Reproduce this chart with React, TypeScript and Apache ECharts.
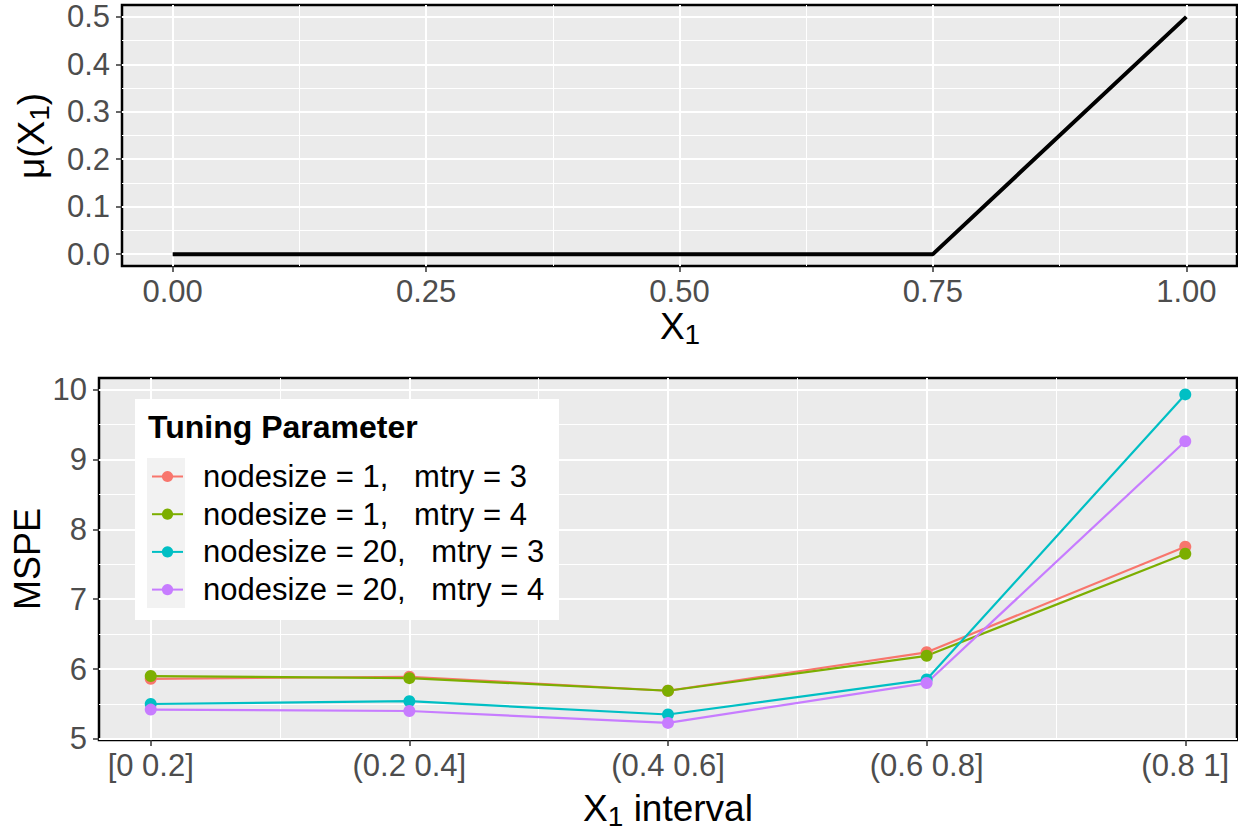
import React, { useEffect, useRef } from 'react';
import * as echarts from 'echarts';

// Upper panel: mean function mu(X1)
const muX = [0, 0.75, 1];
const muY = [0, 0, 0.5];
const muXTicks = [0, 0.25, 0.5, 0.75, 1];
const muXMinor = [0.125, 0.375, 0.625, 0.875];
const muYTicks = [0, 0.1, 0.2, 0.3, 0.4, 0.5];
const muYMinor = [0.05, 0.15, 0.25, 0.35, 0.45];

// Lower panel: MSPE by X1 interval for each tuning setting
const intervals = ['[0 0.2]', '(0.2 0.4]', '(0.4 0.6]', '(0.6 0.8]', '(0.8 1]'];
const tuningNames = [
  'nodesize = 1,   mtry = 3',
  'nodesize = 1,   mtry = 4',
  'nodesize = 20,   mtry = 3',
  'nodesize = 20,   mtry = 4',
];
const mspeNs1M3 = [5.86, 5.89, 5.69, 6.24, 7.75];
const mspeNs1M4 = [5.9, 5.87, 5.69, 6.19, 7.65];
const mspeNs20M3 = [5.5, 5.54, 5.35, 5.85, 9.93];
const mspeNs20M4 = [5.42, 5.4, 5.23, 5.8, 9.26];
const mspeTicks = [5, 6, 7, 8, 9, 10];
const mspeMinor = [5.5, 6.5, 7.5, 8.5, 9.5];
const intervalMinor = [1.5, 2.5, 3.5, 4.5];
const tuningColors = ['#F8766D', '#7CAE00', '#00BFC4', '#C77CFF'];

const FONT = '"Liberation Sans", Arial, Helvetica, sans-serif';
const TICK_COLOR = '#4D4D4D';

function majorAxis(gridIndex: number, min: number, max: number, ticks: number[], fmt: (v: number) => string, margin: number) {
  return {
    type: 'value',
    gridIndex,
    min,
    max,
    axisLine: { show: false, onZero: false },
    axisTick: { show: true, customValues: ticks, length: 6, lineStyle: { color: '#333333', width: 1.5 } },
    axisLabel: {
      customValues: ticks,
      formatter: fmt,
      color: TICK_COLOR,
      fontSize: 31,
      fontFamily: FONT,
      margin,
    },
    splitLine: { show: true, lineStyle: { color: '#FFFFFF', width: 2 } },
  };
}

function minorAxis(gridIndex: number, min: number, max: number, ticks: number[], position: string) {
  return {
    type: 'value',
    gridIndex,
    min,
    max,
    position,
    axisLine: { show: false, onZero: false },
    axisTick: { show: false, customValues: ticks },
    axisLabel: { show: false },
    splitLine: { show: true, lineStyle: { color: '#FFFFFF', width: 1 } },
  };
}

export default function App() {
  const ref = useRef<HTMLDivElement>(null);

  useEffect(() => {
    if (!ref.current) return;
    const chart = echarts.init(ref.current, null, { renderer: 'svg' });

    const mspeSeries = [mspeNs1M3, mspeNs1M4, mspeNs20M3, mspeNs20M4];

    const titleRich = {
      a: { fontSize: 37, lineHeight: 44, fontFamily: FONT, color: '#000' },
      b: { fontSize: 28, lineHeight: 29, fontFamily: FONT, color: '#000', verticalAlign: 'bottom' },
    };

    chart.setOption({
      animation: false,
      backgroundColor: '#FFFFFF',
      grid: [
        { left: 122, top: 5, width: 1115, height: 261, show: true, backgroundColor: '#EBEBEB', borderColor: '#000', borderWidth: 2.5 },
        { left: 99, top: 378, width: 1138, height: 362, show: true, backgroundColor: '#EBEBEB', borderColor: '#000', borderWidth: 2.5 },
      ],
      xAxis: [
        majorAxis(0, -0.05, 1.05, muXTicks, (v: number) => v.toFixed(2), 10),
        minorAxis(0, -0.05, 1.05, muXMinor, 'top'),
        majorAxis(1, 0.8, 5.2, [1, 2, 3, 4, 5], (v: number) => intervals[Math.round(v) - 1], 10),
        minorAxis(1, 0.8, 5.2, intervalMinor, 'top'),
      ],
      yAxis: [
        majorAxis(0, -0.025, 0.525, muYTicks, (v: number) => v.toFixed(1), 12),
        minorAxis(0, -0.025, 0.525, muYMinor, 'right'),
        majorAxis(1, 4.985, 10.165, mspeTicks, (v: number) => String(v), 12),
        minorAxis(1, 4.985, 10.165, mspeMinor, 'right'),
      ],
      legend: {
        data: tuningNames,
        orient: 'vertical',
        left: 151,
        top: 461,
        padding: 0,
        itemWidth: 31,
        itemHeight: 14,
        itemGap: 6.7,
        z: 5,
        textStyle: { fontSize: 31, lineHeight: 30, color: '#000', fontFamily: FONT, padding: [0, 0, 0, 15] },
      },
      graphic: [
        { type: 'rect', z: 3, shape: { x: 135, y: 399, width: 424, height: 221 }, style: { fill: '#FFFFFF' } },
        { type: 'rect', z: 3.5, shape: { x: 147, y: 458, width: 38, height: 150 }, style: { fill: '#F2F2F2' } },
        {
          type: 'text', z: 5, x: 148, y: 427,
          style: { text: 'Tuning Parameter', fontSize: 32, fontWeight: 'bold', fontFamily: FONT, fill: '#000', verticalAlign: 'middle', align: 'left' },
        },
        {
          type: 'text', x: 680, y: 326,
          style: { text: '{a|X}{b|1}', rich: titleRich, align: 'center', verticalAlign: 'middle' },
        },
        {
          type: 'text', x: 668, y: 808,
          style: { text: '{a|X}{b|1}{a| interval}', rich: titleRich, align: 'center', verticalAlign: 'middle' },
        },
        {
          type: 'text', x: 31, y: 136, rotation: Math.PI / 2,
          style: { text: '{a|μ(X}{b|1}{a|)}', rich: titleRich, align: 'center', verticalAlign: 'middle' },
        },
        {
          type: 'text', x: 27, y: 559, rotation: Math.PI / 2,
          style: { text: 'MSPE', fontSize: 36, fontFamily: FONT, fill: '#000', align: 'center', verticalAlign: 'middle' },
        },
      ],
      series: [
        {
          type: 'line',
          xAxisIndex: 0,
          yAxisIndex: 0,
          data: muX.map((x, i) => [x, muY[i]]),
          symbol: 'none',
          lineStyle: { color: '#000000', width: 4 },
          silent: true,
        },
        ...mspeSeries.map((vals, k) => ({
          type: 'line',
          name: tuningNames[k],
          xAxisIndex: 2,
          yAxisIndex: 2,
          data: vals.map((v, i) => [i + 1, v]),
          symbol: 'circle',
          symbolSize: 12,
          color: tuningColors[k],
          itemStyle: { color: tuningColors[k] },
          lineStyle: { color: tuningColors[k], width: 2.2 },
          silent: true,
        })),
      ],
    });

    return () => chart.dispose();
  }, []);

  return (
    <div
      ref={ref}
      style={{ position: 'fixed', left: 0, top: 0, width: 1238, height: 835, background: '#fff' }}
    />
  );
}
